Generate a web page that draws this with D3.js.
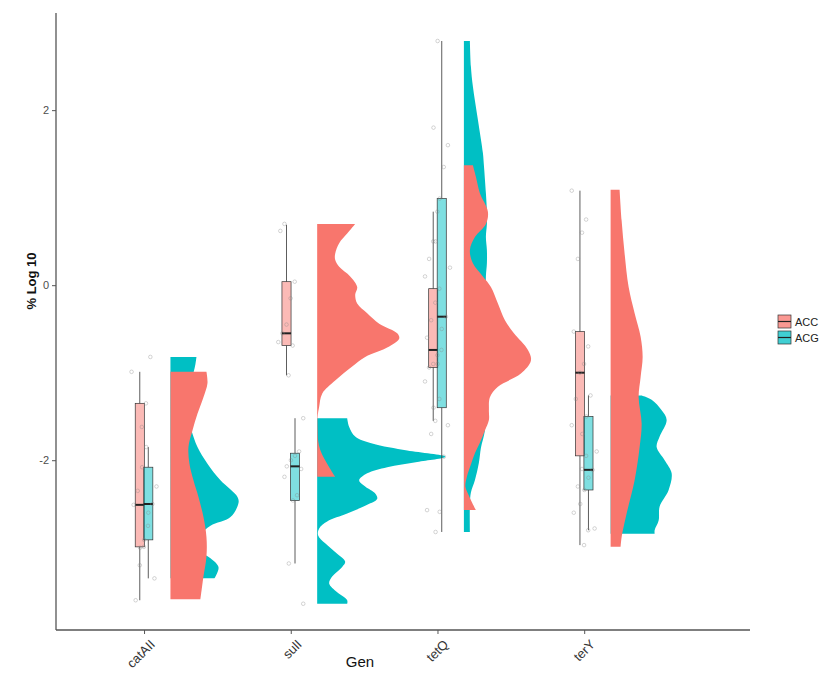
<!DOCTYPE html>
<html>
<head>
<meta charset="utf-8">
<script src="https://cdn.jsdelivr.net/npm/d3@7"></script>
<style>
  body { margin: 0; background: #fff; }
  svg { font-family: "Liberation Sans", Arial, sans-serif; }
</style>
</head>
<body>
<svg id="chart" width="836" height="675"></svg>
<script>
// categories
const genes = ["catAII", "sulI", "tetQ", "terY"];
const groups = ["ACC", "ACG"];
const groupColors = ["#F8766D", "#00BFC4"];
const yTicks = [-2, 0, 2];

// half violin outlines: [value, density]
const violinACC = [
  [[-0.99, 0.36], [-1.12, 0.37], [-1.28, 0.33], [-1.47, 0.27], [-1.66, 0.22], [-1.85, 0.18], [-2.04, 0.19], [-2.23, 0.23], [-2.42, 0.28], [-2.65, 0.33], [-2.88, 0.36], [-3.10, 0.36], [-3.33, 0.33], [-3.59, 0.30]],
  [[0.70, 0.38], [0.59, 0.30], [0.48, 0.22], [0.36, 0.18], [0.29, 0.18], [0.21, 0.22], [0.10, 0.33], [-0.02, 0.40], [-0.11, 0.38], [-0.21, 0.40], [-0.32, 0.50], [-0.44, 0.62], [-0.55, 0.80], [-0.61, 0.82], [-0.70, 0.72], [-0.82, 0.48], [-0.93, 0.35], [-1.09, 0.18], [-1.24, 0.05], [-1.39, 0.02], [-1.50, 0.005], [-1.65, 0.005], [-1.78, 0.01], [-1.88, 0.03], [-1.98, 0.07], [-2.08, 0.12], [-2.19, 0.18]],
  [[1.37, 0.09], [1.24, 0.12], [1.05, 0.16], [0.84, 0.24], [0.70, 0.22], [0.55, 0.11], [0.40, 0.06], [0.25, 0.09], [0.10, 0.19], [-0.02, 0.27], [-0.21, 0.34], [-0.40, 0.41], [-0.55, 0.50], [-0.74, 0.64], [-0.86, 0.67], [-1.01, 0.57], [-1.16, 0.34], [-1.28, 0.26], [-1.43, 0.25], [-1.54, 0.25], [-1.66, 0.21], [-1.80, 0.16], [-1.92, 0.11], [-2.05, 0.07], [-2.19, 0.03], [-2.30, 0.015], [-2.38, 0.04], [-2.48, 0.08], [-2.57, 0.12]],
  [[1.09, 0.09], [0.74, 0.11], [0.36, 0.14], [-0.02, 0.18], [-0.32, 0.24], [-0.59, 0.30], [-0.82, 0.32], [-1.05, 0.30], [-1.28, 0.28], [-1.58, 0.31], [-1.85, 0.29], [-2.23, 0.24], [-2.61, 0.16], [-2.88, 0.11], [-2.99, 0.10]]
];
const violinACG = [
  [[-0.82, 0.26], [-0.90, 0.25], [-1.00, 0.23], [-1.15, 0.19], [-1.30, 0.16], [-1.47, 0.16], [-1.66, 0.21], [-1.85, 0.27], [-2.04, 0.37], [-2.23, 0.50], [-2.42, 0.67], [-2.49, 0.68], [-2.65, 0.60], [-2.75, 0.40], [-2.85, 0.30], [-2.95, 0.25], [-3.05, 0.30], [-3.12, 0.40], [-3.22, 0.48], [-3.33, 0.45], [-3.35, 0.44]],
  [[-1.52, 0.30], [-1.62, 0.32], [-1.73, 0.38], [-1.81, 0.55], [-1.89, 0.90], [-1.96, 1.28], [-2.02, 1.00], [-2.08, 0.70], [-2.15, 0.50], [-2.23, 0.42], [-2.30, 0.48], [-2.38, 0.58], [-2.44, 0.60], [-2.51, 0.50], [-2.61, 0.30], [-2.70, 0.10], [-2.78, 0.02], [-2.86, 0.01], [-2.95, 0.08], [-3.07, 0.20], [-3.16, 0.28], [-3.22, 0.25], [-3.33, 0.15], [-3.41, 0.12], [-3.51, 0.20], [-3.60, 0.30], [-3.64, 0.30]],
  [[2.79, 0.06], [2.50, 0.07], [2.27, 0.09], [1.89, 0.14], [1.51, 0.19], [1.37, 0.20], [1.05, 0.22], [0.84, 0.23], [0.70, 0.23], [0.55, 0.22], [0.40, 0.23], [0.25, 0.23], [0.10, 0.22], [-0.20, 0.22], [-0.60, 0.23], [-1.00, 0.23], [-1.30, 0.23], [-1.66, 0.21], [-1.86, 0.17], [-2.03, 0.15], [-2.23, 0.11], [-2.37, 0.07], [-2.50, 0.06], [-2.82, 0.06]],
  [[-1.26, 0.31], [-1.31, 0.41], [-1.43, 0.51], [-1.54, 0.56], [-1.73, 0.49], [-1.85, 0.46], [-2.00, 0.54], [-2.15, 0.61], [-2.34, 0.58], [-2.53, 0.49], [-2.69, 0.48], [-2.80, 0.44], [-2.84, 0.44]]
];

// box stats: [lower whisker, q1, median, q3, upper whisker]
const boxACC = [
  [-3.60, -2.99, -2.51, -1.35, -0.99],
  [-1.03, -0.69, -0.55, 0.04, 0.69],
  [-1.55, -0.94, -0.74, -0.04, 0.84],
  [-2.97, -1.95, -1.00, -0.53, 1.08]
];
const boxACG = [
  [-3.35, -2.91, -2.50, -2.08, -1.85],
  [-3.18, -2.46, -2.07, -1.92, -1.52],
  [-2.82, -1.40, -0.36, 0.99, 2.79],
  [-2.80, -2.34, -2.11, -1.50, -1.26]
];

// raw samples (jittered points)
const pointsACC = [
  [-0.99, -1.35, -1.62, -2.35, -2.51, -2.75, -2.99, -3.20, -3.60],
  [0.70, 0.62, 0.04, -0.15, -0.45, -0.55, -0.65, -0.69, -1.03, -2.19],
  [0.84, 0.50, 0.30, 0.10, -0.04, -0.20, -0.40, -0.60, -0.74, -0.80, -0.90, -0.94, -1.10, -1.30, -1.55, -1.70, -2.57],
  [1.08, 0.75, 0.60, 0.30, -0.53, -0.70, -0.90, -1.00, -1.30, -1.60, -1.95, -2.10, -2.30, -2.60, -2.80, -2.97]
];
const pointsACG = [
  [-0.82, -1.85, -2.08, -2.30, -2.50, -2.60, -2.91, -3.00, -3.35],
  [-1.52, -1.90, -1.95, -2.00, -2.07, -2.10, -2.40, -2.46, -3.18, -3.64],
  [2.79, 1.80, 1.60, 1.35, 0.99, 0.50, 0.20, -0.36, -0.50, -0.90, -1.40, -1.60, -1.96, -2.59, -2.82],
  [-1.26, -1.50, -1.70, -1.90, -2.11, -2.20, -2.34, -2.50, -2.78]
];

const violins = [violinACG, violinACC]; // ACG below, ACC on top
const boxes = [boxACC, boxACG];
const points = [pointsACC, pointsACG];

const svg = d3.select("#chart");

// x: category index, y: log10 %
const x = d3.scaleLinear().domain([0.4, 5.13]).range([56, 750]);
const y = d3.scaleLinear().domain([-3.94, 3.11]).range([630, 13]);

const dodge = 0.029;      // box offset per group
const boxW = 0.062;
const nudge = 0.18;       // violin start right of tick
const violinScale = 0.682; // density 1 -> category units

// 半小提琴
const plot = svg.append("g");
violins.forEach((set, k) => {
  const color = k === 0 ? groupColors[1] : groupColors[0];
  set.forEach((prof, i) => {
    const base = i + 1 + nudge;
    const area = d3.area()
      .y(d => y(d[0]))
      .x0(x(base))
      .x1(d => x(base + d[1] * violinScale))
      .curve(d3.curveCatmullRom);
    plot.append("path").attr("d", area(prof)).attr("fill", color).attr("stroke", "none");
  });
});

// boxplots
boxes.forEach((set, g) => {
  set.forEach((b, i) => {
    const cx = i + 1 + (g === 0 ? -dodge : dodge);
    const bx = plot.append("g");
    bx.append("line").attr("x1", x(cx)).attr("x2", x(cx)).attr("y1", y(b[0])).attr("y2", y(b[1]))
      .attr("stroke", "#333").attr("stroke-width", 0.8);
    bx.append("line").attr("x1", x(cx)).attr("x2", x(cx)).attr("y1", y(b[3])).attr("y2", y(b[4]))
      .attr("stroke", "#333").attr("stroke-width", 0.8);
    bx.append("rect").attr("x", x(cx - boxW / 2)).attr("width", x(cx + boxW / 2) - x(cx - boxW / 2))
      .attr("y", y(b[3])).attr("height", y(b[1]) - y(b[3]))
      .attr("fill", groupColors[g]).attr("fill-opacity", 0.5)
      .attr("stroke", "#333").attr("stroke-width", 0.7);
    bx.append("line").attr("x1", x(cx - boxW / 2)).attr("x2", x(cx + boxW / 2)).attr("y1", y(b[2])).attr("y2", y(b[2]))
      .attr("stroke", "#222").attr("stroke-width", 2);
  });
});

// jitter points
points.forEach((set, g) => {
  set.forEach((vals, i) => {
    const cx = i + 1 + (g === 0 ? -dodge : dodge);
    vals.forEach((v, j) => {
      const jit = (((j * 7 + i * 3 + g * 5) % 9) - 4) * 0.014;
      plot.append("circle").attr("cx", x(cx + jit)).attr("cy", y(v)).attr("r", 1.8)
        .attr("fill", "none").attr("stroke", "#888").attr("stroke-opacity", 0.5).attr("stroke-width", 0.7);
    });
  });
});

// axes
const yAxis = svg.append("g").attr("transform", `translate(${x(0.4)},0)`)
  .call(d3.axisLeft(y).tickValues(yTicks).tickSize(4).tickFormat(d => String(d)));
const xAxis = svg.append("g").attr("transform", `translate(0,${y(-3.94)})`)
  .call(d3.axisBottom(x).tickValues([1, 2, 3, 4]).tickSize(4).tickFormat(d => genes[d - 1]));
[yAxis, xAxis].forEach(a => {
  a.select(".domain").attr("stroke", "#555").attr("stroke-width", 1.3);
  a.selectAll(".tick line").attr("stroke", "#555");
  a.selectAll(".tick text").attr("fill", "#4D4D4D").attr("font-size", 11)
    .attr("font-family", "Liberation Sans, Arial, sans-serif");
});
yAxis.select(".domain").attr("d", `M0,${y(3.11)}V${y(-3.94)}`);
xAxis.select(".domain").attr("d", `M${x(0.4)},0H${x(5.13)}`);
xAxis.selectAll(".tick text")
  .attr("text-anchor", "end").attr("dy", "0.35em").attr("font-size", 13).attr("fill", "#333")
  .attr("transform", "translate(8,12) rotate(-45)")
  .attr("y", 0).attr("x", 0);

// axis titles
svg.append("text").attr("x", 360).attr("y", 667).attr("text-anchor", "middle")
  .attr("font-size", 15).attr("fill", "#111").text("Gen");
svg.append("text").attr("transform", "translate(36,281) rotate(-90)").attr("text-anchor", "middle")
  .attr("font-size", 13).attr("font-weight", "bold").attr("fill", "#111").text("% Log 10");

// legend
const legend = svg.append("g").attr("transform", "translate(778,315)");
groups.forEach((gname, g) => {
  const row = legend.append("g").attr("transform", `translate(0,${g * 16})`);
  row.append("rect").attr("x", 0).attr("y", 0).attr("width", 13).attr("height", 13)
    .attr("fill", groupColors[g]).attr("fill-opacity", 0.75).attr("stroke", "#333").attr("stroke-width", 0.7);
  row.append("line").attr("x1", 0).attr("x2", 13).attr("y1", 6.5).attr("y2", 6.5)
    .attr("stroke", "#222").attr("stroke-width", 1.2);
  row.append("text").attr("x", 17).attr("y", 10.5).attr("font-size", 11).attr("fill", "#222").text(gname);
});
</script>
</body>
</html>
